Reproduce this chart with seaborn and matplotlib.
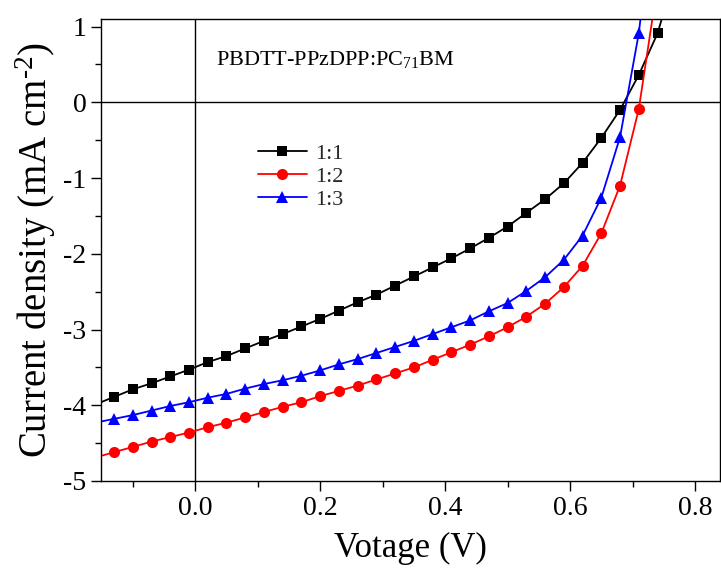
import pandas as pd
import seaborn as sns
import matplotlib.pyplot as plt
from matplotlib.ticker import MultipleLocator

# J-V data (first/last points sit just outside the axes)
voltage = [-0.16, -0.13, -0.10, -0.07, -0.04, -0.01, 0.02, 0.05, 0.08, 0.11,
           0.14, 0.17, 0.20, 0.23, 0.26, 0.29, 0.32, 0.35, 0.38, 0.41,
           0.44, 0.47, 0.50, 0.53, 0.56, 0.59, 0.62, 0.65, 0.68, 0.71,
           0.74, 0.77]
j_11 = [-3.99, -3.89, -3.79, -3.71, -3.62, -3.53, -3.43, -3.35, -3.25, -3.15,
        -3.06, -2.96, -2.86, -2.75, -2.64, -2.54, -2.42, -2.30, -2.18, -2.06,
        -1.93, -1.79, -1.64, -1.46, -1.28, -1.07, -0.80, -0.47, -0.10, 0.36,
        0.91, 1.75]
j_12 = [-4.69, -4.62, -4.55, -4.48, -4.42, -4.36, -4.29, -4.23, -4.16, -4.09,
        -4.02, -3.96, -3.88, -3.81, -3.74, -3.66, -3.58, -3.50, -3.40, -3.30,
        -3.20, -3.09, -2.97, -2.83, -2.66, -2.44, -2.16, -1.73, -1.10, -0.09,
        1.55]
j_13 = [-4.23, -4.18, -4.13, -4.07, -4.01, -3.96, -3.90, -3.85, -3.78, -3.72,
        -3.67, -3.61, -3.54, -3.46, -3.39, -3.31, -3.23, -3.15, -3.06, -2.97,
        -2.88, -2.76, -2.65, -2.49, -2.31, -2.08, -1.76, -1.26, -0.46, 0.91,
        3.00]

series = [('1:1', j_11, 'black', 's', 7),
          ('1:2', j_12, 'red', 'o', 8),
          ('1:3', j_13, 'blue', '^', 8.5)]

sns.set_style('ticks')
plt.rcParams['font.family'] = ['Liberation Serif', 'DejaVu Serif']
plt.rcParams['axes.unicode_minus'] = False
plt.rcParams['mathtext.fontset'] = 'custom'
plt.rcParams['mathtext.rm'] = 'Liberation Serif'
plt.rcParams['mathtext.it'] = 'Liberation Serif:italic'

fig = plt.figure(figsize=(7.21, 5.75), dpi=100)
ax = fig.add_axes([0.140, 0.1635, 0.8586, 0.8035])

for label, j, color, marker, msize in series:
    df = pd.DataFrame({'V': voltage[:len(j)], 'J': j})
    sns.lineplot(data=df, x='V', y='J', ax=ax, color=color, marker=marker,
                 markersize=msize, markeredgewidth=0,
                 linewidth=1.3, errorbar=None, sort=False, label=label,
                 markevery=slice(1, None))

ax.axhline(0, color='black', linewidth=1.0, zorder=0)
ax.axvline(0, color='black', linewidth=1.0, zorder=0)

ax.set_xlim(-0.151, 0.84)
ax.set_ylim(-5, 1.1)
ax.xaxis.set_major_locator(MultipleLocator(0.2))
ax.xaxis.set_minor_locator(MultipleLocator(0.1))
ax.yaxis.set_major_locator(MultipleLocator(1))
ax.yaxis.set_minor_locator(MultipleLocator(0.5))
ax.xaxis.set_major_formatter(plt.FormatStrFormatter('%.1f'))
ax.tick_params(which='major', direction='out', length=7, width=1.0,
               labelsize=20, color='black', labelcolor='black')
ax.tick_params(which='minor', direction='out', length=4, width=1.0, color='black')
for spine in ax.spines.values():
    spine.set_visible(True)
    spine.set_color('black')
    spine.set_linewidth(1.0)

ax.set_xlabel('Votage (V)', fontsize=25, labelpad=8, color='black')
ax.set_ylabel('Current density (mA cm$^{\\text{-2}}$)', fontsize=28, labelpad=4,
              color='black')

ax.text(0.033, 0.57, 'PBDTT-PPzDPP:PC$_{\\mathrm{71}}$BM', fontsize=16,
        va='center', ha='left', color='black')

ax.legend(loc='upper left', bbox_to_anchor=(0.228, 0.765), frameon=False,
          fontsize=16, handlelength=2.2, labelspacing=0.12, handletextpad=0.4,
          borderpad=0.2)

fig.savefig('out.png', dpi=100)
